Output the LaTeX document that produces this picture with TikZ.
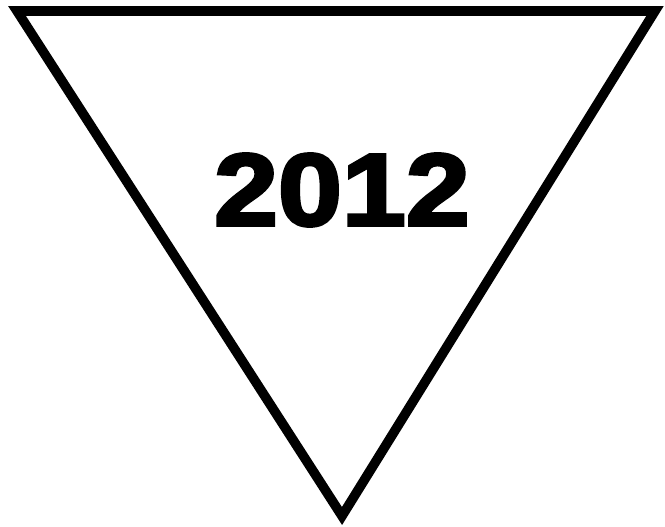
\documentclass[tikz,border=0pt]{standalone}
\usepackage{fontspec}
\newfontfamily\yearfont{Liberation Sans Bold}[RawFeature={embolden=3}]
\usetikzlibrary{positioning}

\begin{document}
\begin{tikzpicture}[x=0.75pt, y=-0.75pt,
  marco/.style={draw=black, line width=7.2pt, line join=miter, miter limit=10},
  anio/.style={inner sep=0pt, font=\yearfont\fontsize{77}{84}\selectfont,
               xscale=1.12, transform shape}]
\useasboundingbox (0,0) rectangle (665,527);
\coordinate (izq) at (17,11);
\coordinate (der) at (655,11);
\coordinate (pie) at (342,516);
\draw[marco](izq)--(der)--(pie)--cycle;
\node[anio](ano) at (342,190){2012};
\end{tikzpicture}
\end{document}
